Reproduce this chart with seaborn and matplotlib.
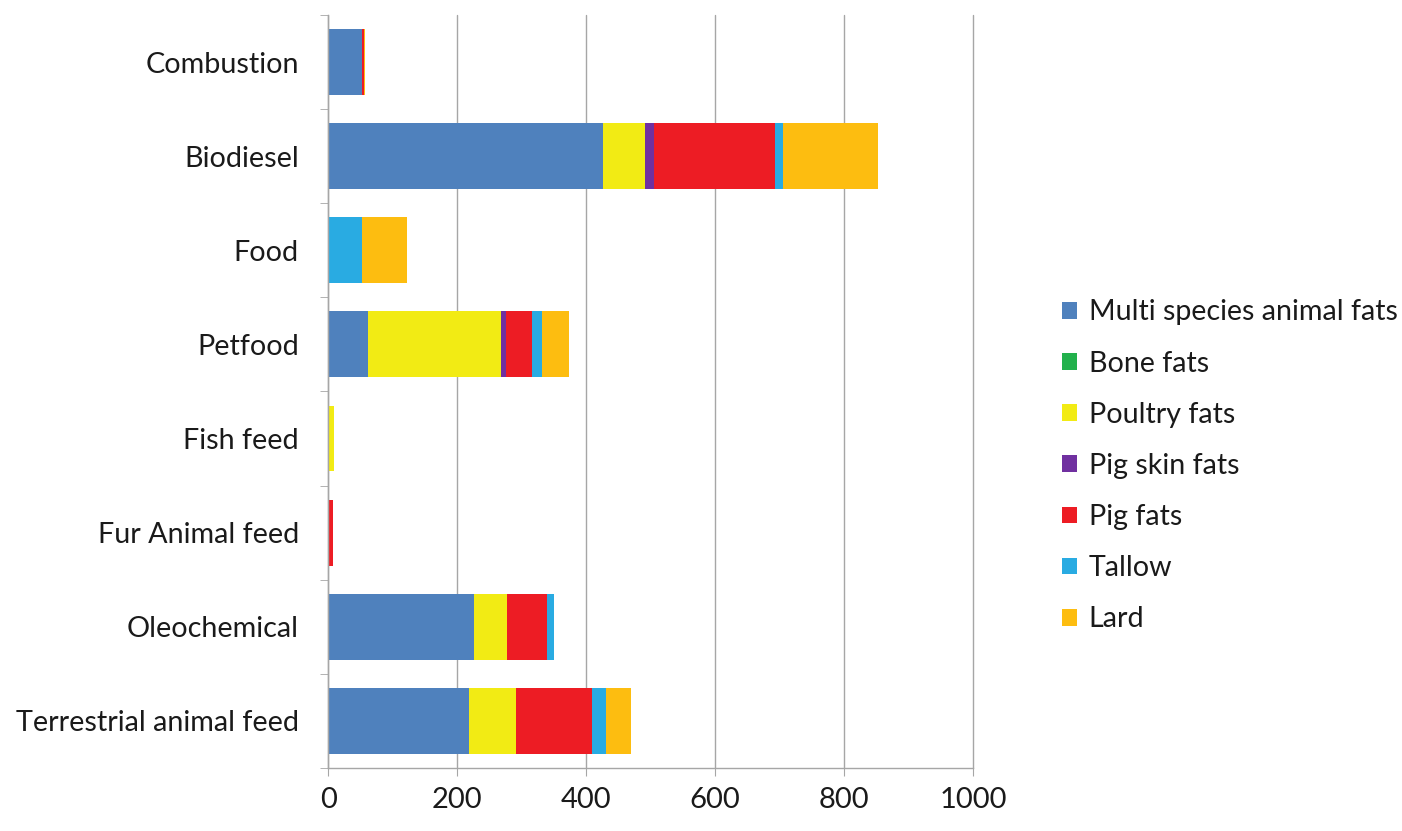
import numpy as np
import pandas as pd
import matplotlib
matplotlib.use('Agg')
import matplotlib.pyplot as plt
import seaborn as sns

# Data
categories = ['Combustion', 'Biodiesel', 'Food', 'Petfood', 'Fish feed',
              'Fur Animal feed', 'Oleochemical', 'Terrestrial animal feed']
series_names = ['Multi species animal fats', 'Bone fats', 'Poultry fats',
                'Pig skin fats', 'Pig fats', 'Tallow', 'Lard']

multi_species = [52, 426, 0, 62, 0, 0, 226, 218]
bone_fats = [0, 0, 0, 0, 0, 0, 0, 0]
poultry_fats = [0, 66, 0, 206, 9, 0, 52, 73]
pig_skin_fats = [0, 13, 0, 8, 0, 0, 0, 0]
pig_fats = [3, 188, 0, 40, 0, 7, 61, 118]
tallow = [0, 13, 52, 15, 0, 0, 11, 22]
lard = [2, 146, 70, 43, 0, 0, 0, 39]

colors = ['#4F81BD', '#22B14C', '#F2EB14', '#7030A0', '#ED1C24', '#29ABE2', '#FDBD10']

sns.set_style('white')
plt.rcParams['font.family'] = ['Lato', 'DejaVu Sans']
plt.rcParams['text.color'] = '#1a1a1a'
plt.rcParams['xtick.color'] = '#1a1a1a'
plt.rcParams['ytick.color'] = '#1a1a1a'

df = pd.DataFrame({'Category': categories})
values = [multi_species, bone_fats, poultry_fats, pig_skin_fats, pig_fats, tallow, lard]
for name, vals in zip(series_names, values):
    df[name] = vals

# cumulative sums so each layer can be overdrawn from the longest to shortest
cum = df[series_names].cumsum(axis=1)

fig = plt.figure(figsize=(14.02, 8.31), dpi=100)
ax = fig.add_axes([0.234, 0.076, 0.460, 0.906])

for i in reversed(range(len(series_names))):
    sns.barplot(x=cum[series_names[i]], y=df['Category'], color=colors[i],
                orient='h', width=0.7, saturation=1, label=series_names[i],
                ax=ax, linewidth=0)

ax.set_xlim(0, 1000)
ax.set_xticks(np.arange(0, 1001, 200))
ax.set_xlabel('')
ax.set_ylabel('')
ax.grid(axis='x', color='#A6A6A6', linewidth=1)
ax.set_axisbelow(True)
for line in ax.get_xgridlines():
    line.set_clip_on(False)

for side in ['top', 'right']:
    ax.spines[side].set_visible(False)
for side in ['left', 'bottom']:
    ax.spines[side].set_color('#A6A6A6')
    ax.spines[side].set_linewidth(1)

ax.tick_params(axis='x', labelsize=21, length=6, color='#A6A6A6', direction='out',
               bottom=True, pad=8)
ax.tick_params(axis='y', labelsize=20.7, length=0, pad=21)
ax.set_yticks(np.arange(-0.5, len(categories), 1), minor=True)
ax.tick_params(axis='y', which='minor', length=6, color='#A6A6A6', left=True)
ax.set_ylim(len(categories) - 0.5, -0.5)

handles, labels = ax.get_legend_handles_labels()
ax.legend(handles[::-1], labels[::-1], loc='center left', bbox_to_anchor=(1.098, 0.401),
          frameon=False, fontsize=20.6, handlelength=0.52, handleheight=0.52,
          handletextpad=0.42, labelspacing=0.88)

fig.savefig('out.png', dpi=100)
